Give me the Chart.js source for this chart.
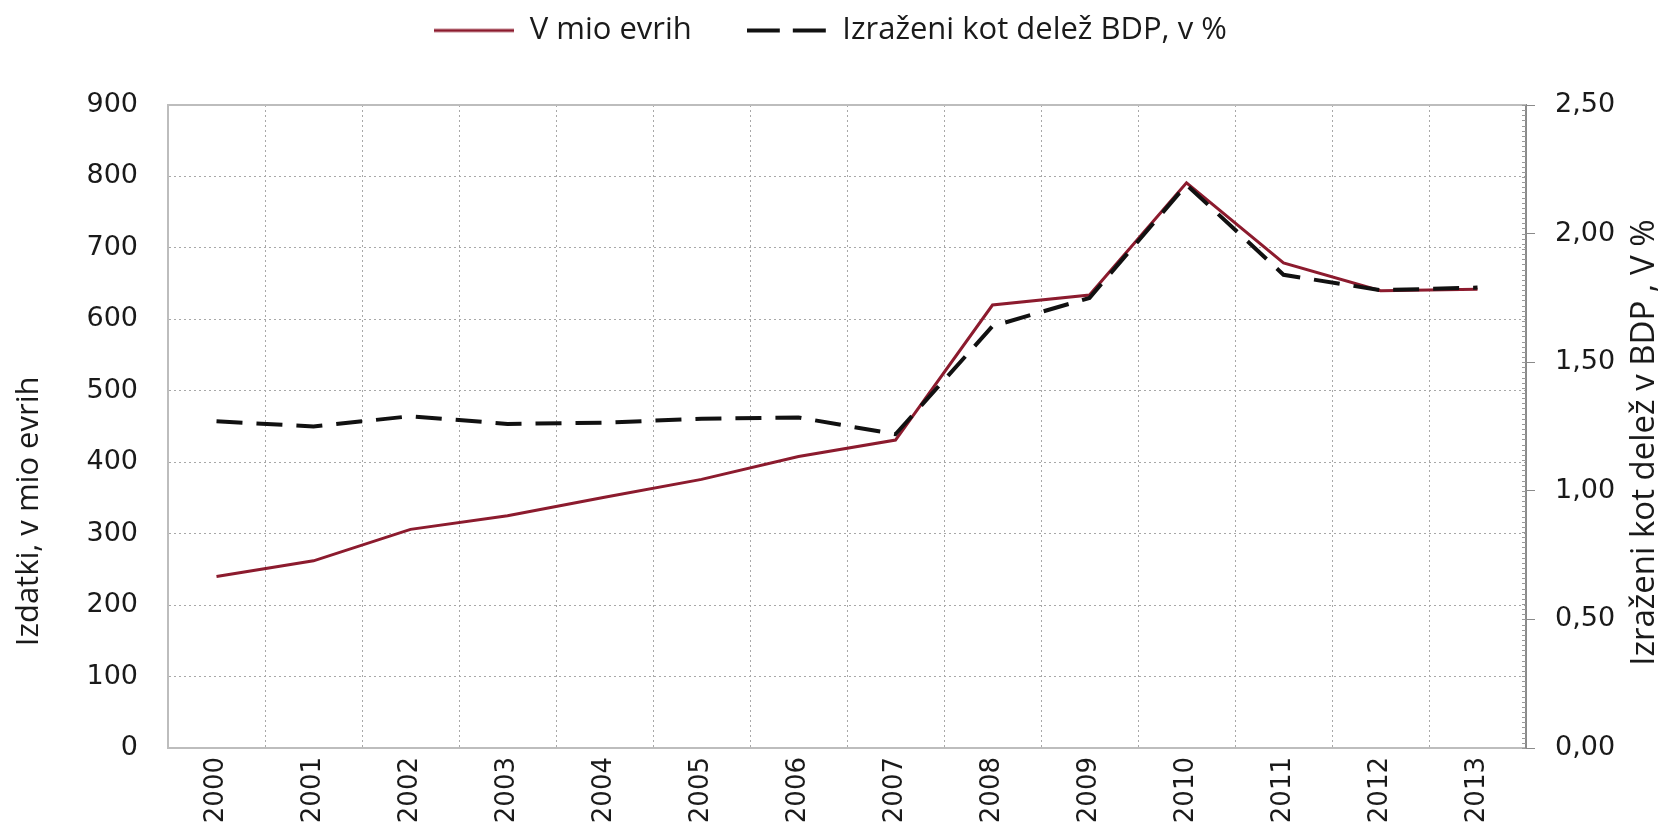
<!DOCTYPE html>
<html>
<head>
<meta charset="utf-8">
<script src="https://cdn.jsdelivr.net/npm/chart.js@4.4.1/dist/chart.umd.min.js"></script>
<style>
  html, body { margin: 0; padding: 0; background: #fff; }
</style>
</head>
<body>
<canvas id="chart" width="1661" height="837"></canvas>
<script>
const years = ['2000', '2001', '2002', '2003', '2004', '2005', '2006', '2007', '2008', '2009', '2010', '2011', '2012', '2013'];
// izdatki v mio EUR
const spendingMio = [240, 262, 306, 325, 351, 376, 408, 431, 620, 634, 791, 679, 640, 642];
// delez BDP v %
const shareOfGdp = [1.27, 1.25, 1.29, 1.26, 1.265, 1.28, 1.285, 1.22, 1.64, 1.75, 2.19, 1.84, 1.78, 1.79];
const seriesNames = ['V mio evrih', 'Izraženi kot delež BDP, v %'];
const leftTitle = 'Izdatki, v mio evrih';
const rightTitle = 'Izraženi kot delež v BDP , V %';

const tickFont = {family: 'DejaVu Sans', size: 27};
const textFont = 'Open Sans';
const gridColor = '#a8a8a8';
const redColor = '#8c1b2e';
const blackColor = '#111111';

// vzorec crte za legendo
function legendSample(color, width, dash) {
  const c = document.createElement('canvas');
  c.width = 80;
  c.height = 8;
  const g = c.getContext('2d');
  g.strokeStyle = color;
  g.lineWidth = width;
  g.setLineDash(dash);
  g.beginPath();
  g.moveTo(0, 4);
  g.lineTo(80, 4);
  g.stroke();
  return c;
}

// okvir, pomozne oznake na desni osi in naslova osi
const extras = {
  id: 'extras',
  beforeDatasetsDraw(chart) {
    const {ctx, chartArea: a} = chart;
    ctx.save();
    ctx.strokeStyle = '#bdbdbd';
    ctx.lineWidth = 2;
    ctx.beginPath();
    ctx.moveTo(a.left, a.top);
    ctx.lineTo(a.right, a.top);
    ctx.stroke();

    const s = chart.scales.y1;
    ctx.strokeStyle = '#9a9a9a';
    ctx.lineWidth = 1;
    ctx.beginPath();
    for (let v = 0; v <= s.max + 1e-9; v += 0.02) {
      const y = Math.round(s.getPixelForValue(v)) + 0.5;
      ctx.moveTo(s.left - 4, y);
      ctx.lineTo(s.left, y);
    }
    ctx.stroke();
    ctx.restore();
  },
  afterDraw(chart) {
    const {ctx, chartArea: a} = chart;
    const h = a.bottom - a.top;
    ctx.save();
    ctx.fillStyle = '#1a1a1a';
    ctx.textAlign = 'center';
    ctx.textBaseline = 'middle';
    ctx.font = '31px "' + textFont + '"';
    ctx.translate(29, a.top + h * 0.632);
    ctx.rotate(-Math.PI / 2);
    ctx.fillText(leftTitle, 0, 0);
    ctx.restore();

    ctx.save();
    ctx.fillStyle = '#1a1a1a';
    ctx.textAlign = 'center';
    ctx.textBaseline = 'middle';
    ctx.font = '33px "' + textFont + '"';
    ctx.translate(1645, a.top + h * 0.525);
    ctx.rotate(-Math.PI / 2);
    ctx.fillText(rightTitle, 0, 0);
    ctx.restore();
  }
};

new Chart(document.getElementById('chart'), {
  type: 'line',
  data: {
    labels: years,
    datasets: [{
      label: seriesNames[0],
      data: spendingMio,
      yAxisID: 'y',
      borderColor: redColor,
      backgroundColor: redColor,
      borderWidth: 3,
      pointRadius: 0,
      pointStyle: legendSample(redColor, 3, []),
      tension: 0,
      order: 1
    }, {
      label: seriesNames[1],
      data: shareOfGdp,
      yAxisID: 'y1',
      borderColor: blackColor,
      backgroundColor: blackColor,
      borderWidth: 4,
      borderDash: [26, 14],
      pointRadius: 0,
      pointStyle: legendSample(blackColor, 4, [33, 13]),
      tension: 0,
      order: 0
    }]
  },
  options: {
    responsive: false,
    animation: false,
    devicePixelRatio: 1,
    layout: {padding: {top: -40, left: 0, right: 0, bottom: 0}},
    plugins: {
      tooltip: {enabled: false},
      legend: {
        position: 'top',
        labels: {
          usePointStyle: true,
          pointStyleWidth: 80,
          padding: 55,
          color: '#1a1a1a',
          font: {family: textFont, size: 31},
          sort: (a, b) => a.datasetIndex - b.datasetIndex
        }
      },
      // prazen prostor med legendo in grafom
      title: {
        display: true,
        text: '',
        weight: 500,
        font: {size: 10, lineHeight: 1},
        padding: {top: 39, bottom: 0}
      }
    },
    scales: {
      x: {
        offset: true,
        grid: {offset: true, color: gridColor, lineWidth: 1, drawTicks: false},
        border: {display: true, color: '#bdbdbd', width: 2, dash: [2, 3]},
        ticks: {
          minRotation: 90, maxRotation: 90, padding: 9,
          color: '#1a1a1a', font: {family: 'DejaVu Sans', size: 26}
        },
        afterFit: s => { s.height = 89; }
      },
      y: {
        position: 'left',
        min: 0, max: 900,
        grid: {color: gridColor, lineWidth: 1, drawTicks: false},
        border: {display: true, color: '#bdbdbd', width: 2, dash: [2, 3]},
        ticks: {stepSize: 100, padding: 30, color: '#1a1a1a', font: tickFont},
        afterFit: s => { s.width = 168; }
      },
      y1: {
        position: 'right',
        min: 0, max: 2.5,
        grid: {drawOnChartArea: false, color: '#8a8a8a', tickLength: 9},
        border: {display: true, color: '#8a8a8a', width: 2},
        ticks: {
          stepSize: 0.5, padding: 20, color: '#1a1a1a', font: tickFont,
          callback: v => v.toFixed(2).replace('.', ',')
        },
        afterFit: s => { s.width = 135; }
      }
    }
  },
  plugins: [extras]
});
</script>
</body>
</html>
